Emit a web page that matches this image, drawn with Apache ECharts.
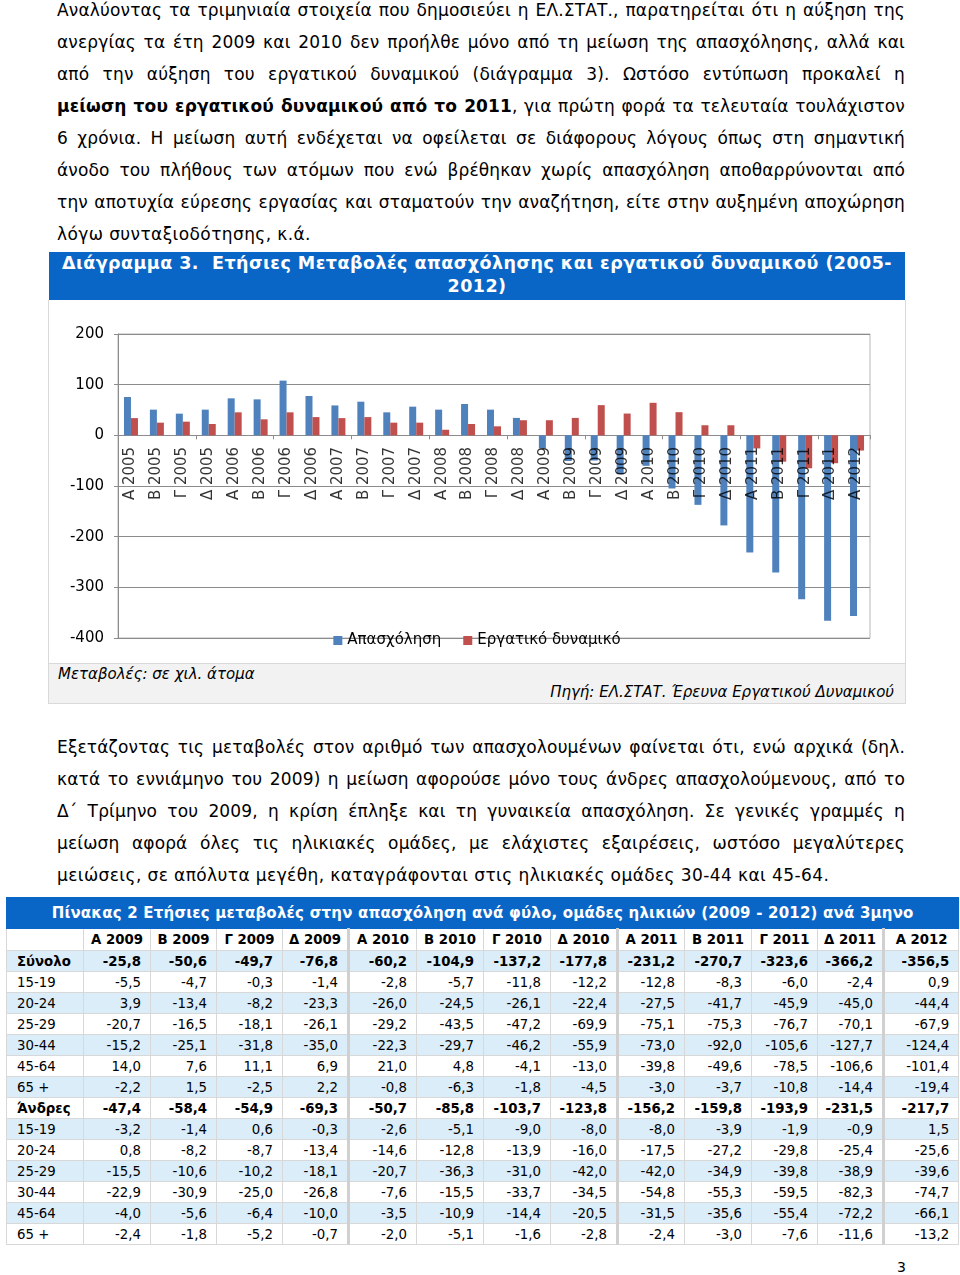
<!DOCTYPE html>
<html><head><meta charset="utf-8">
<script src="https://cdn.jsdelivr.net/npm/echarts@6/dist/echarts.min.js"></script>
<style>
html,body{margin:0;padding:0;background:#fff;}
body{width:960px;height:1275px;position:relative;font-family:"DejaVu Sans",Verdana,sans-serif;color:#000;overflow:hidden;}
.ln{position:absolute;left:57px;height:32px;line-height:32px;font-size:17px;letter-spacing:0.15px;white-space:nowrap;}
#hdr{position:absolute;left:49px;top:252px;width:856px;height:48px;background:#0a66c6;color:#fff;font-weight:bold;font-size:17.5px;letter-spacing:0.45px;line-height:23px;text-align:center;white-space:nowrap;}
#box{position:absolute;left:48px;top:300px;width:856px;height:363px;border:1px solid #d9d9d9;border-top:none;background:#fff;}
#chart{position:absolute;left:49px;top:300px;width:856px;height:362px;}
#note{position:absolute;left:48px;top:664px;width:856px;height:39px;border:1px solid #d9d9d9;border-top:none;background:#f2f2f2;font-style:italic;font-size:15px;}
#n1{position:absolute;left:9px;top:1px;}
#n2{position:absolute;right:11px;top:19px;}
#tbl{position:absolute;left:6px;top:897px;width:952px;border-collapse:collapse;table-layout:fixed;font-size:13.3px;}
#tbl td{border:1px solid #d8d8d8;height:20px;padding:0 9px 0 0;text-align:right;white-space:nowrap;overflow:hidden;}
#tbl td.lab{text-align:left;padding:0 0 0 10px;}
#tbl tr.title td{background:#0a66c6;color:#fff;font-weight:bold;font-size:15px;letter-spacing:0.2px;text-align:center;height:30px;padding:0;border-color:#0a66c6;}
#tbl tr.head td{font-weight:bold;text-align:center;height:21px;padding:0;}
#tbl tr.s td{background:#dcedfa;}
#tbl tr.b td{font-weight:bold;}
#tbl td.sep{border-right:3px solid #d0d0d0;}
#pg{position:absolute;left:897px;top:1259px;font-size:14px;}
</style></head><body>
<script>
// ---- chart data ----
const categories = ["Α 2005","Β 2005","Γ 2005","Δ 2005","Α 2006","Β 2006","Γ 2006","Δ 2006","Α 2007","Β 2007","Γ 2007","Δ 2007","Α 2008","Β 2008","Γ 2008","Δ 2008","Α 2009","Β 2009","Γ 2009","Δ 2009","Α 2010","Β 2010","Γ 2010","Δ 2010","Α 2011","Β 2011","Γ 2011","Δ 2011","Α 2012"];
const employment = [75.7,50.7,42.8,50.7,73.0,71.0,108.0,77.6,59.0,66.4,45.4,56.6,50.7,61.8,50.7,34.4,-25.8,-50.6,-49.7,-76.8,-60.2,-104.9,-137.2,-177.8,-231.2,-270.7,-323.6,-366.2,-356.5];
const labourForce = [34.0,25.0,27.0,22.4,45.4,31.6,45.4,36.0,34.0,36.0,25.0,25.0,11.0,22.4,17.8,29.8,29.8,34.4,59.6,43.0,64.2,45.7,19.9,19.9,-25.8,-52.0,-65.0,-55.0,-30.0];
const seriesNames = ["Απασχόληση","Εργατικό δυναμικό"];
const yTicks = [-400,-300,-200,-100,0,100,200];

// ---- table data ----
const tableTitle = "Πίνακας 2 Ετήσιες μεταβολές στην απασχόληση ανά φύλο, ομάδες ηλικιών (2009 - 2012) ανά 3μηνο";
const tableCols = ["Α 2009","Β 2009","Γ 2009","Δ 2009","Α 2010","Β 2010","Γ 2010","Δ 2010","Α 2011","Β 2011","Γ 2011","Δ 2011","Α 2012"];
const tableRowLabels = ["Σύνολο","15-19","20-24","25-29","30-44","45-64","65 +","Άνδρες","15-19","20-24","25-29","30-44","45-64","65 +"];
const rowTotal  = ["-25,8","-50,6","-49,7","-76,8","-60,2","-104,9","-137,2","-177,8","-231,2","-270,7","-323,6","-366,2","-356,5"];
const rowT1519  = ["-5,5","-4,7","-0,3","-1,4","-2,8","-5,7","-11,8","-12,2","-12,8","-8,3","-6,0","-2,4","0,9"];
const rowT2024  = ["3,9","-13,4","-8,2","-23,3","-26,0","-24,5","-26,1","-22,4","-27,5","-41,7","-45,9","-45,0","-44,4"];
const rowT2529  = ["-20,7","-16,5","-18,1","-26,1","-29,2","-43,5","-47,2","-69,9","-75,1","-75,3","-76,7","-70,1","-67,9"];
const rowT3044  = ["-15,2","-25,1","-31,8","-35,0","-22,3","-29,7","-46,2","-55,9","-73,0","-92,0","-105,6","-127,7","-124,4"];
const rowT4564  = ["14,0","7,6","11,1","6,9","21,0","4,8","-4,1","-13,0","-39,8","-49,6","-78,5","-106,6","-101,4"];
const rowT65    = ["-2,2","1,5","-2,5","2,2","-0,8","-6,3","-1,8","-4,5","-3,0","-3,7","-10,8","-14,4","-19,4"];
const rowMen    = ["-47,4","-58,4","-54,9","-69,3","-50,7","-85,8","-103,7","-123,8","-156,2","-159,8","-193,9","-231,5","-217,7"];
const rowM1519  = ["-3,2","-1,4","0,6","-0,3","-2,6","-5,1","-9,0","-8,0","-8,0","-3,9","-1,9","-0,9","1,5"];
const rowM2024  = ["0,8","-8,2","-8,7","-13,4","-14,6","-12,8","-13,9","-16,0","-17,5","-27,2","-29,8","-25,4","-25,6"];
const rowM2529  = ["-15,5","-10,6","-10,2","-18,1","-20,7","-36,3","-31,0","-42,0","-42,0","-34,9","-39,8","-38,9","-39,6"];
const rowM3044  = ["-22,9","-30,9","-25,0","-26,8","-7,6","-15,5","-33,7","-34,5","-54,8","-55,3","-59,5","-82,3","-74,7"];
const rowM4564  = ["-4,0","-5,6","-6,4","-10,0","-3,5","-10,9","-14,4","-20,5","-31,5","-35,6","-55,4","-72,2","-66,1"];
const rowM65    = ["-2,4","-1,8","-5,2","-0,7","-2,0","-5,1","-1,6","-2,8","-2,4","-3,0","-7,6","-11,6","-13,2"];
</script>

<div class="ln j" style="top:-6px">Αναλύοντας τα τριμηνιαία στοιχεία που δημοσιεύει η ΕΛ.ΣΤΑΤ., παρατηρείται ότι η αύξηση της</div>
<div class="ln j" style="top:26px">ανεργίας τα έτη 2009 και 2010 δεν προήλθε μόνο από τη μείωση της απασχόλησης, αλλά και</div>
<div class="ln j" style="top:58px">από την αύξηση του εργατικού δυναμικού (διάγραμμα 3). Ωστόσο εντύπωση προκαλεί η</div>
<div class="ln j" style="top:90px"><b>μείωση του εργατικού δυναμικού από το 2011</b>, για πρώτη φορά τα τελευταία τουλάχιστον</div>
<div class="ln j" style="top:122px">6 χρόνια. Η μείωση αυτή ενδέχεται να οφείλεται σε διάφορους λόγους όπως στη σημαντική</div>
<div class="ln j" style="top:154px">άνοδο του πλήθους των ατόμων που ενώ βρέθηκαν χωρίς απασχόληση αποθαρρύνονται από</div>
<div class="ln j" style="top:186px">την αποτυχία εύρεσης εργασίας και σταματούν την αναζήτηση, είτε στην αυξημένη αποχώρηση</div>
<div class="ln" style="top:218px;letter-spacing:0.4px">λόγω συνταξιοδότησης, κ.ά.</div>

<div id="hdr"><span id="h1">Διάγραμμα 3.&nbsp; Ετήσιες Μεταβολές απασχόλησης και εργατικού δυναμικού (2005-</span><br>2012)</div>
<div id="box"></div>
<div id="chart"></div>
<div id="note"><span id="n1">Μεταβολές: σε χιλ. άτομα</span><span id="n2">Πηγή: ΕΛ.ΣΤΑΤ. Έρευνα Εργατικού Δυναμικού</span></div>

<div class="ln j" style="top:731px">Εξετάζοντας τις μεταβολές στον αριθμό των απασχολουμένων φαίνεται ότι, ενώ αρχικά (δηλ.</div>
<div class="ln j" style="top:763px">κατά το εννιάμηνο του 2009) η μείωση αφορούσε μόνο τους άνδρες απασχολούμενους, από το</div>
<div class="ln j" style="top:795px">Δ΄ Τρίμηνο του 2009, η κρίση έπληξε και τη γυναικεία απασχόληση. Σε γενικές γραμμές η</div>
<div class="ln j" style="top:827px">μείωση αφορά όλες τις ηλικιακές ομάδες, με ελάχιστες εξαιρέσεις, ωστόσο μεγαλύτερες</div>
<div class="ln" style="top:859px;letter-spacing:0.4px">μειώσεις, σε απόλυτα μεγέθη, καταγράφονται στις ηλικιακές ομάδες 30-44 και 45-64.</div>

<table id="tbl"></table>
<div id="pg">3</div>

<script>
// manual justification of each line to 848px
document.querySelectorAll('.ln.j').forEach(el=>{
  const target=848;
  const w=el.getBoundingClientRect().width;
  const spaces=(el.textContent.match(/ /g)||[]).length;
  if(spaces>0) el.style.wordSpacing=((target-w)/spaces)+'px';
});

// build table
(function(){
  const widths=[77,67,66,66,66,68,67,67,67,67,67,66,66,75];
  const rows=[rowTotal,rowT1519,rowT2024,rowT2529,rowT3044,rowT4564,rowT65,rowMen,rowM1519,rowM2024,rowM2529,rowM3044,rowM4564,rowM65];
  const sepIdx=[3,7,11];
  let h='<colgroup>'+widths.map(w=>'<col style="width:'+w+'px">').join('')+'</colgroup>';
  h+='<tr class="title"><td colspan="14">'+tableTitle+'</td></tr>';
  h+='<tr class="head"><td></td>'+tableCols.map((c,i)=>'<td'+(sepIdx.includes(i)?' class="sep"':'')+'>'+c+'</td>').join('')+'</tr>';
  rows.forEach((r,ri)=>{
    const cls=[]; if(ri%2===0) cls.push('s'); if(ri===0||ri===7) cls.push('b');
    h+='<tr class="'+cls.join(' ')+'"><td class="lab">'+tableRowLabels[ri]+'</td>'+r.map((v,i)=>'<td'+(sepIdx.includes(i)?' class="sep"':'')+'>'+v+'</td>').join('')+'</tr>';
  });
  document.getElementById('tbl').innerHTML=h;
})();

const chart = echarts.init(document.getElementById('chart'), null, {renderer:'canvas'});
chart.setOption({
  animation:false,
  textStyle:{fontFamily:'DejaVu Sans'},
  legend:{
    data:seriesNames, left:'center', top:328, itemWidth:9, itemHeight:9, itemGap:22,
    icon:'rect', textStyle:{fontSize:15,color:'#000',fontFamily:'DejaVu Sans'}
  },
  grid:{left:69, right:35, top:34, bottom:24, containLabel:false, outerBoundsMode:'none', show:true, borderColor:'#b5b5b5', borderWidth:1},
  xAxis:{
    type:'category', data:categories,
    axisLine:{onZero:true, lineStyle:{color:'#8c8c8c'}},
    axisTick:{show:true, length:4, inside:false, lineStyle:{color:'#8c8c8c'}},
    axisLabel:{show:false},
    splitLine:{show:false}
  },
  yAxis:{
    type:'value', min:-400, max:200, interval:100,
    axisLine:{show:true, lineStyle:{color:'#8c8c8c'}},
    axisTick:{show:true, length:4, lineStyle:{color:'#8c8c8c'}},
    axisLabel:{margin:14, fontSize:15, color:'#000', fontFamily:'DejaVu Sans'},
    splitLine:{lineStyle:{color:'#8c8c8c', width:1}}
  },
  series:[
    {name:seriesNames[0], type:'bar', data:employment, barWidth:7, barGap:'0%', itemStyle:{color:'#4f81bd'}, z:1},
    {name:seriesNames[1], type:'bar', data:labourForce, barWidth:7, barGap:'0%', itemStyle:{color:'#c0504d'}, z:1},
    {name:'labels', type:'scatter', data:categories.map(c=>[c,0]), symbolSize:1, itemStyle:{color:'rgba(0,0,0,0)'},
     silent:true, z:5, legendHoverLink:false,
     label:{show:true, position:[0,12], rotate:90, align:'right', verticalAlign:'middle',
       formatter:p=>p.data[0], fontSize:15, color:'#000', fontFamily:'DejaVu Sans'}}
  ]
});
</script>
</body></html>
